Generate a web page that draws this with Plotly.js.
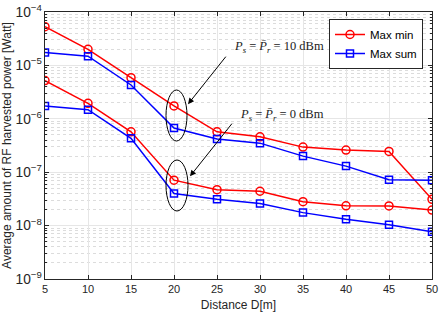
<!DOCTYPE html>
<html>
<head>
<meta charset="utf-8">
<script src="https://cdn.plot.ly/plotly-3.0.1.min.js"></script>
<style>
  html, body { margin: 0; padding: 0; background: #fff; }
  #chart { width: 443px; height: 324px; }
</style>
</head>
<body>
<div id="chart"></div>
<script>
const distances = [5, 10, 15, 20, 25, 30, 35, 40, 45, 50];

// Ps = Pr = 10 dBm
const maxMin10 = [5.3e-5, 2.0e-5, 5.9e-6, 1.74e-6, 5.7e-7, 4.6e-7, 2.95e-7, 2.6e-7, 2.45e-7, 3.1e-8];
const maxSum10 = [1.75e-5, 1.49e-5, 4.3e-6, 6.7e-7, 4.2e-7, 3.5e-7, 2.0e-7, 1.3e-7, 7.2e-8, 7.1e-8];

// Ps = Pr = 0 dBm
const maxMin0 = [5.2e-6, 1.95e-6, 5.7e-7, 7.1e-8, 4.7e-8, 4.4e-8, 2.8e-8, 2.35e-8, 2.33e-8, 1.95e-8];
const maxSum0 = [1.74e-6, 1.48e-6, 4.3e-7, 4.0e-8, 3.1e-8, 2.6e-8, 1.75e-8, 1.32e-8, 1.04e-8, 7.7e-9];

const RED = '#ff0000';
const BLUE = '#0000ff';

function series(y, name, color, symbol, showlegend) {
  return {
    x: distances,
    y: y,
    name: name,
    type: 'scatter',
    mode: 'lines+markers',
    showlegend: showlegend,
    line: { color: color, width: 1.5 },
    marker: {
      symbol: symbol,
      size: symbol === 'circle-open' ? 8 : 7,
      color: color,
      line: { color: color, width: 1.5 },
    },
  };
}

const traces = [
  series(maxMin10, 'Max min', RED, 'circle-open', true),
  series(maxSum10, 'Max sum', BLUE, 'square-open', true),
  series(maxMin0, 'Max min', RED, 'circle-open', false),
  series(maxSum0, 'Max sum', BLUE, 'square-open', false),
];

const mathFont = { family: 'Liberation Serif, DejaVu Serif, serif', size: 12.5, color: '#222' };

// paper coords from plot pixels (plot area: x 45..432, y 12..279)
const px = (p) => (p - 45) / 387;
const py = (p) => 1 - (p - 12) / 267;

const layout = {
  width: 443,
  height: 324,
  margin: { l: 45, r: 11, t: 12, b: 45 },
  paper_bgcolor: '#fff',
  plot_bgcolor: '#fff',
  font: { family: 'Liberation Sans, Arial, sans-serif', size: 11, color: '#262626' },
  xaxis: {
    range: [5, 50],
    dtick: 5,
    tick0: 5,
    showgrid: true,
    gridcolor: '#e6e6e6',
    zeroline: false,
    showline: true,
    linecolor: '#262626',
    linewidth: 1,
    mirror: 'ticks',
    ticks: 'inside',
    ticklen: 4,
    tickcolor: '#262626',
    title: { text: 'Distance D[m]', font: { size: 12 }, standoff: 6 },
  },
  yaxis: {
    type: 'log',
    range: [-9, -4],
    dtick: 1,
    exponentformat: 'power',
    showgrid: true,
    gridcolor: '#e6e6e6',
    zeroline: false,
    showline: true,
    linecolor: '#262626',
    linewidth: 1,
    mirror: 'ticks',
    ticks: 'inside',
    ticklen: 4,
    tickcolor: '#262626',
    minor: {
      ticks: 'inside',
      ticklen: 2,
      tickcolor: '#262626',
      showgrid: true,
      gridcolor: '#dcdcdc',
      griddash: 'dot',
    },
    title: { text: 'Average amount of RF harvested power [Watt]', font: { size: 12 }, standoff: 6 },
  },
  legend: {
    x: px(423),
    y: py(19),
    xanchor: 'right',
    yanchor: 'top',
    bgcolor: '#fff',
    bordercolor: '#262626',
    borderwidth: 1,
    font: { size: 11.5, color: '#000' },
    tracegroupgap: 0,
    itemwidth: 30,
  },
  shapes: [
    {
      type: 'circle',
      xref: 'paper', yref: 'paper',
      x0: px(166), x1: px(187),
      y0: py(141), y1: py(90),
      line: { color: '#000', width: 1 },
    },
    {
      type: 'circle',
      xref: 'paper', yref: 'paper',
      x0: px(166), x1: px(188),
      y0: py(211), y1: py(160),
      line: { color: '#000', width: 1 },
    },
  ],
  annotations: [
    {
      xref: 'x', yref: 'y',
      x: 21.63, y: -5.726,
      ax: 39, ay: -49,
      showarrow: true,
      arrowhead: 2,
      arrowsize: 1.2,
      arrowwidth: 1,
      arrowcolor: '#000',
      text: '',
    },
    {
      xref: 'x', yref: 'y',
      x: 21.86, y: -7.077,
      ax: 43, ay: -54,
      showarrow: true,
      arrowhead: 2,
      arrowsize: 1.2,
      arrowwidth: 1,
      arrowcolor: '#000',
      text: '',
    },
    {
      xref: 'paper', yref: 'paper',
      x: px(326), y: py(47),
      xanchor: 'right', yanchor: 'middle',
      showarrow: false,
      font: mathFont,
      text: '<i>P</i><sub><i>s</i></sub> = <i>P\u0304</i><sub><i>r</i></sub> = 10 dBm',
    },
    {
      xref: 'paper', yref: 'paper',
      x: px(326), y: py(115),
      xanchor: 'right', yanchor: 'middle',
      showarrow: false,
      font: mathFont,
      text: '<i>P</i><sub><i>s</i></sub> = <i>P\u0304</i><sub><i>r</i></sub> = 0 dBm',
    },
  ],
};

Plotly.newPlot('chart', traces, layout, { displayModeBar: false, staticPlot: true });
</script>
</body>
</html>
